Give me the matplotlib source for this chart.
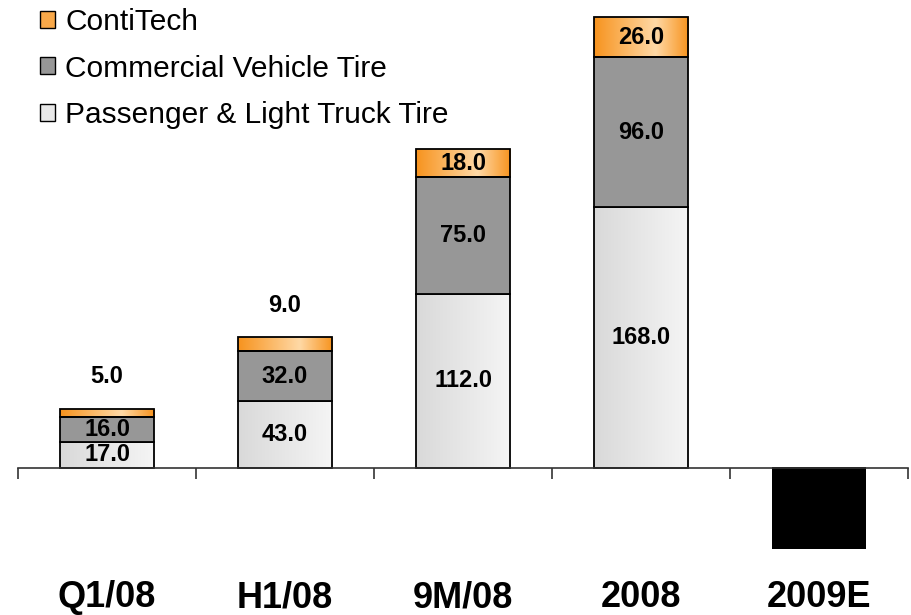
import numpy as np
import matplotlib
matplotlib.use("Agg")
import matplotlib.pyplot as plt
from matplotlib.patches import Patch
from matplotlib.colors import LinearSegmentedColormap
import matplotlib.transforms as mtransforms

categories = ["Q1/08", "H1/08", "9M/08", "2008", "2009E"]
passenger = [17.0, 43.0, 112.0, 168.0, 0.0]
commercial = [16.0, 32.0, 75.0, 96.0, 0.0]
contitech = [5.0, 9.0, 18.0, 26.0, 0.0]
estimate = [0.0, 0.0, 0.0, 0.0, -52.0]
legend_labels = ["ContiTech", "Commercial Vehicle Tire", "Passenger & Light Truck Tire"]

plt.rcParams['font.family'] = ['Liberation Sans', 'DejaVu Sans']

W, H = 911, 615
fig = plt.figure(figsize=(W / 100, H / 100), dpi=100)
ax_top_px, ax_bot_px = 10, 560
ax = fig.add_axes([18 / W, 1 - ax_bot_px / H, (908 - 18) / W, (ax_bot_px - ax_top_px) / H])

x = np.arange(len(categories))
bw = 0.53
ppu = 1.555

pas = np.array(passenger)
com = np.array(commercial)
con = np.array(contitech)

b1 = ax.bar(x, pas, bw, color='none', edgecolor='black', linewidth=1.3, zorder=3)
b2 = ax.bar(x, com, bw, bottom=pas, color='#979797', edgecolor='black', linewidth=1.3, zorder=3)
b3 = ax.bar(x, con, bw, bottom=pas + com, color='none', edgecolor='black', linewidth=1.3, zorder=3)
b4 = ax.bar(x, estimate, bw, color='black', edgecolor='none', zorder=3)

gray_cmap = LinearSegmentedColormap.from_list('g', ['#d9d9d9', '#f5f5f5'])
orange_cmap = LinearSegmentedColormap.from_list('o', [(0, '#f7931e'), (0.65, '#ffd9a6'), (1, '#f7931e')])
grad = np.linspace(0, 1, 256).reshape(1, -1)

def fill_gradient(bars, cmap):
    for b in bars:
        if b.get_height() == 0:
            continue
        x0, y0 = b.get_x(), b.get_y()
        w, h = b.get_width(), b.get_height()
        im = ax.imshow(grad, cmap=cmap, aspect='auto', extent=[x0, x0 + w, y0, y0 + h],
                       zorder=2, interpolation='bicubic')
        im.set_clip_path(b)

fill_gradient(b1, gray_cmap)
fill_gradient(b3, orange_cmap)
ax.set_xlim(-0.5, len(categories) - 0.5)
ax.set_ylim(-(ax_bot_px - 468) / ppu, (468 - ax_top_px) / ppu)

lab_kw = dict(ha='center', va='center', fontsize=17, fontweight='bold', color='black', zorder=5)
for i in range(len(categories)):
    if pas[i] > 0:
        ax.text(x[i], pas[i] / 2, f"{pas[i]:.1f}", **lab_kw)
    if com[i] > 0:
        ax.text(x[i], pas[i] + com[i] / 2, f"{com[i]:.1f}", **lab_kw)
    if con[i] > 0:
        top = pas[i] + com[i]
        if con[i] >= 15:
            ax.text(x[i], top + con[i] / 2, f"{con[i]:.1f}", **lab_kw)
        else:
            ax.annotate(f"{con[i]:.1f}", (x[i], top + con[i]), xytext=(0, 23),
                        textcoords='offset points', **lab_kw)

for s in ['top', 'right', 'left']:
    ax.spines[s].set_visible(False)
ax.spines['bottom'].set_position(('data', 0))
ax.spines['bottom'].set_color('#333333')
ax.spines['bottom'].set_linewidth(1.2)
ax.spines['bottom'].set_zorder(4)
ax.set_yticks([])
ax.set_xticks(np.arange(len(categories) + 1) - 0.5)
ax.set_xticklabels([])
ax.tick_params(axis='x', direction='out', length=8, width=1.2, color='#333333')

trans = mtransforms.blended_transform_factory(ax.transData, ax.transAxes)
for i, c in enumerate(categories):
    ax.text(x[i], -(607 - ax_bot_px) / (ax_bot_px - ax_top_px), c, transform=trans,
            ha='center', va='baseline', fontsize=26, fontweight='bold', clip_on=False)

handles = [Patch(facecolor='#f9a94a', edgecolor='black', linewidth=1.0),
           Patch(facecolor='#979797', edgecolor='black', linewidth=1.0),
           Patch(facecolor='#e8e8e8', edgecolor='black', linewidth=1.0)]
fig.legend(handles, legend_labels, loc='upper left', bbox_to_anchor=(40 / W, 1 - 8 / H),
           frameon=False, fontsize=21.5, handlelength=0.5, handleheight=0.5,
           handletextpad=0.35, labelspacing=0.62, borderpad=0, borderaxespad=0)

fig.savefig('out.png', dpi=100)
